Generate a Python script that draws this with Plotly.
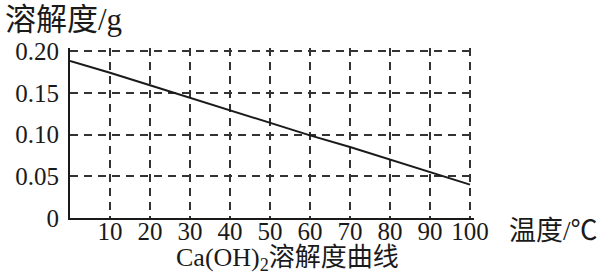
import plotly.graph_objects as go

temps = [0, 10, 20, 30, 40, 50, 60, 70, 80, 90, 100]
solubility = [0.188, 0.174, 0.159, 0.144, 0.129, 0.114, 0.099, 0.085, 0.070, 0.055, 0.040]
x_ticks = [10, 20, 30, 40, 50, 60, 70, 80, 90, 100]
y_ticks = [0, 0.05, 0.10, 0.15, 0.20]
y_tick_text = ["0", "0.05", "0.10", "0.15", "0.20"]

SERIF = "Liberation Serif"
CJK = "Liberation Serif, Noto Sans CJK SC"

fig = go.Figure()
fig.add_trace(go.Scatter(x=temps, y=solubility, mode="lines",
                         line=dict(color="#1a1a1a", width=2), showlegend=False,
                         hoverinfo="skip"))

W, H = 600, 277
L, B = 70, 59
T, R = 48, 126
pw, ph = W - L - R, H - T - B

def px_x(p):
    return (p - L) / pw

def px_y(p):
    return (H - B - p) / ph

fig.update_layout(
    width=W, height=H,
    margin=dict(l=L, r=R, t=T, b=B, pad=0),
    paper_bgcolor="white", plot_bgcolor="white",
    font=dict(family=SERIF, size=25, color="#1a1a1a"),
    xaxis=dict(range=[0, 101], tickvals=x_ticks, ticktext=[str(v) for v in x_ticks],
               showline=True, linecolor="#1a1a1a", linewidth=2,
               showgrid=True, gridcolor="#333", gridwidth=1.5, griddash="8px,6px",
               zeroline=False, ticks="", ticklabelstandoff=-10,
               tickfont=dict(family=SERIF, size=25)),
    yaxis=dict(range=[0, 0.2036], tickvals=y_ticks, ticktext=y_tick_text,
               showline=True, linecolor="#1a1a1a", linewidth=2,
               showgrid=True, gridcolor="#333", gridwidth=1.5, griddash="8px,6px",
               zeroline=False, ticks="", ticklabelstandoff=4,
               tickfont=dict(family=SERIF, size=25)),
    annotations=[
        dict(text="溶解度/g", xref="paper", yref="paper", x=px_x(3), y=px_y(20),
             xanchor="left", yanchor="middle", showarrow=False,
             font=dict(family=CJK, size=31)),
        dict(text="温度/℃", xref="paper", yref="paper", x=px_x(507), y=px_y(231),
             xanchor="left", yanchor="middle", showarrow=False,
             font=dict(family=CJK, size=27)),
        dict(text="Ca(OH)<sub>2</sub>溶解度曲线", xref="paper", yref="paper",
             x=px_x(287), y=px_y(259), xanchor="center", yanchor="middle",
             showarrow=False, font=dict(family=CJK, size=26)),
    ],
)

fig.write_html("out.html")
